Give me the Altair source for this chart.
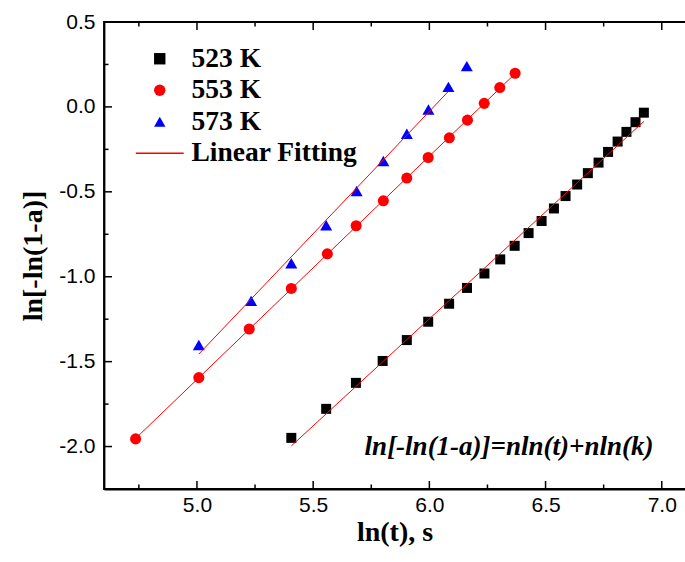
import altair as alt
import pandas as pd

SERIF = "Liberation Serif, Times New Roman, serif"
SANS = "Liberation Sans, Arial, sans-serif"

series_names = ["523 K", "553 K", "573 K"]
fit_label = "Linear Fitting"
equation = "ln[-ln(1-a)]=nln(t)+nln(k)"

x523 = [5.406, 5.556, 5.684, 5.799, 5.903, 5.995, 6.085, 6.162, 6.237, 6.305, 6.367, 6.427,
        6.483, 6.536, 6.586, 6.636, 6.682, 6.728, 6.769, 6.810, 6.848, 6.887, 6.923]
y523 = [-1.949, -1.778, -1.625, -1.496, -1.373, -1.265, -1.159, -1.066, -0.981, -0.898, -0.818,
        -0.743, -0.672, -0.598, -0.525, -0.457, -0.390, -0.328, -0.265, -0.204, -0.147, -0.090, -0.034]
fit523 = [1] * 23

x553 = [4.736, 5.008, 5.225, 5.406, 5.561, 5.685, 5.802, 5.903, 5.995, 6.086, 6.164, 6.236, 6.303, 6.369]
y553 = [-1.955, -1.594, -1.308, -1.069, -0.865, -0.700, -0.553, -0.419, -0.298, -0.182, -0.078,
        0.021, 0.114, 0.198]
fit553 = [1] * 14

x573 = [5.008, 5.233, 5.406, 5.556, 5.687, 5.802, 5.903, 5.996, 6.082, 6.161]
y573 = [-1.402, -1.142, -0.921, -0.697, -0.495, -0.319, -0.158, -0.015, 0.118, 0.240]
fit573 = [1, 1, 1, 1, 1, 1, 1, 1, 1, 0]

x_major = [5.0, 5.5, 6.0, 6.5, 7.0]
x_minor = [4.75, 5.25, 5.75, 6.25, 6.75]
y_major = [0.5, 0.0, -0.5, -1.0, -1.5, -2.0]
y_minor = [0.25, -0.25, -0.75, -1.25, -1.75]
x_domain = [4.6, 7.1]
y_domain = [-2.25, 0.5]

rows = []
for name, xs_, ys_, fs_ in [("523 K", x523, y523, fit523), ("553 K", x553, y553, fit553),
                            ("573 K", x573, y573, fit573)]:
    for a, b, f in zip(xs_, ys_, fs_):
        rows.append({"series": name, "x": a, "y": b, "fit": f})
df = pd.DataFrame(rows)

W, H = 581, 467
MAJ, MIN = 8, 4.5
LINE_PATH = "M-4.2,-0.12L4.2,-0.12L4.2,0.12L-4.2,0.12Z"

xs = alt.Scale(domain=x_domain, nice=False, zero=False)
ys = alt.Scale(domain=y_domain, nice=False, zero=False)
MINUS_FIX = "replace(datum.label, '\u2212', '-')"

legend = alt.Legend(title=None, orient="none", legendX=42, legendY=23, padding=0,
                    symbolSize=130, labelFont=SERIF, labelFontWeight="bold", labelFontSize=27.5,
                    labelColor="black", labelOffset=18, rowPadding=2.5, symbolOpacity=1,
                    symbolStrokeWidth=0, labelLimit=400)

color_scale = alt.Scale(domain=series_names + [fit_label],
                        range=["#000000", "#ff0000", "#0000ff", "#ff0000"])
shape_scale = alt.Scale(domain=series_names + [fit_label],
                        range=["square", "circle", "triangle-up", LINE_PATH])
size_scale = alt.Scale(domain=series_names, range=[100, 145, 175])

base = alt.Chart(df)

points = base.mark_point(filled=True, opacity=1, strokeWidth=0).encode(
    x=alt.X("x:Q", scale=xs, axis=alt.Axis(
        orient="bottom", values=x_major, format=".1f", labelExpr=MINUS_FIX, ticks=False,
        tickSize=0, domain=True, domainColor="black", domainWidth=1.8, grid=False,
        labelPadding=5, labelFont=SANS, labelFontSize=21,
        labelColor="black", title="ln(t), s", titleFont=SERIF, titleFontSize=28,
        titleFontWeight="bold", titleColor="black", titlePadding=3)),
    y=alt.Y("y:Q", scale=ys, axis=alt.Axis(
        orient="left", values=y_major, format=".1f", labelExpr=MINUS_FIX, ticks=False,
        tickSize=0, domain=True, domainColor="black", domainWidth=1.8, grid=False,
        labelPadding=9, labelFont=SANS, labelFontSize=21,
        labelColor="black", title="ln[-ln(1-a)]", titleFont=SERIF, titleFontSize=28,
        titleFontWeight="bold", titleColor="black", titlePadding=11)),
    color=alt.Color("series:N", scale=color_scale, legend=legend),
    shape=alt.Shape("series:N", scale=shape_scale, legend=legend),
    size=alt.Size("series:N", scale=size_scale, legend=None),
)

fits = base.transform_filter("datum.fit == 1").transform_regression(
    "x", "y", groupby=["series"]
).mark_line(color="#ff0000", strokeWidth=1).encode(
    x=alt.X("x:Q", scale=xs),
    y=alt.Y("y:Q", scale=ys),
    detail="series:N",
)

xmin_df = pd.DataFrame({"v": x_minor})
xmaj_df = pd.DataFrame({"v": x_major})
ymin_df = pd.DataFrame({"v": y_minor})
ymaj_df = pd.DataFrame({"v": y_major})


def xticks(data, length, ypos):
    return alt.Chart(data).mark_tick(
        color="black", thickness=1.5, size=length, orient="vertical", opacity=1
    ).encode(x=alt.X("v:Q", scale=xs), y=alt.value(ypos))


def yticks(data, length, xpos):
    return alt.Chart(data).mark_tick(
        color="black", thickness=1.5, size=length, orient="horizontal", opacity=1
    ).encode(y=alt.Y("v:Q", scale=ys), x=alt.value(xpos))


tick_layers = [
    xticks(xmaj_df, MAJ, H - MAJ / 2), xticks(xmin_df, MIN, H - MIN / 2),
    xticks(xmaj_df, MAJ, MAJ / 2), xticks(xmin_df, MIN, MIN / 2),
    yticks(ymaj_df, MAJ, MAJ / 2), yticks(ymin_df, MIN, MIN / 2),
]

eq = alt.Chart(pd.DataFrame({"label": [equation]})).mark_text(
    font=SERIF, fontSize=27, fontWeight="bold", fontStyle="italic", align="center",
    baseline="middle", color="black"
).encode(text="label:N", x=alt.value(405), y=alt.value(425))

chart = alt.layer(points, fits, *tick_layers, eq).properties(
    width=W, height=H,
    padding={"left": 104, "top": 22, "right": 0, "bottom": 73},
    autosize=alt.AutoSizeParams(type="none"),
).configure_view(
    stroke="black", strokeWidth=1.8,
    # frame drawn on top, bottom and left only (right edge lies at the window border)
    strokeDash=[W, H, W + H],
)

chart.save("out.html", embed_options={"renderer": "svg", "actions": False})
